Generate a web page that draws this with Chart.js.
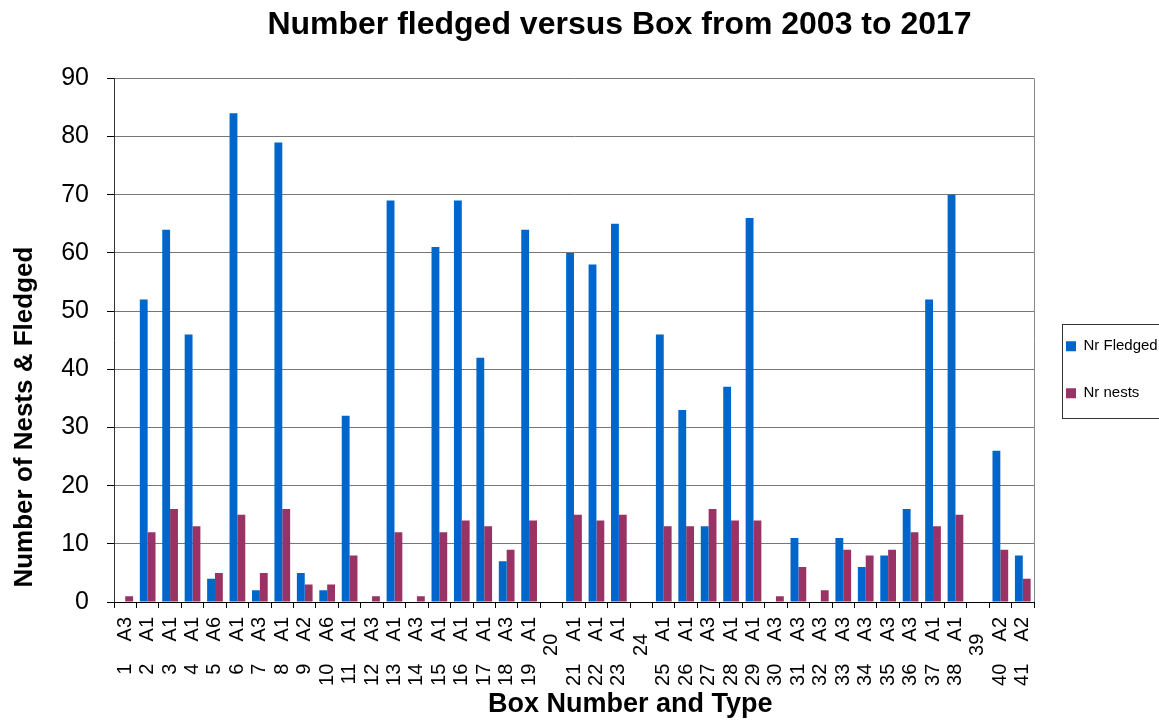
<!DOCTYPE html>
<html>
<head>
<meta charset="utf-8">
<script src="https://cdn.jsdelivr.net/npm/chart.js@4/dist/chart.umd.min.js"></script>
<style>
  html, body { margin: 0; padding: 0; background: #fff; }
  #wrap { width: 1159px; height: 722px; }
</style>
</head>
<body>
<div id="wrap"><canvas id="chart"></canvas></div>
<script>
// box numbers and box types (empty type = no box label)
const boxNumbers = ['1','2','3','4','5','6','7','8','9','10','11','12','13','14','15','16','17','18','19','20',
  '21','22','23','24','25','26','27','28','29','30','31','32','33','34','35','36','37','38','39','40','41'];
const boxTypes = ['A3','A1','A1','A1','A6','A1','A3','A1','A2','A6','A1','A3','A1','A3','A1','A1','A1','A3','A1','',
  'A1','A1','A1','','A1','A1','A3','A1','A1','A3','A3','A3','A3','A3','A3','A3','A1','A1','','A2','A2'];

const nrFledged = [0,52,64,46,4,84,2,79,5,2,32,0,69,0,61,69,42,7,64,0,
  60,58,65,0,46,33,13,37,66,0,11,0,11,6,8,16,52,70,0,26,8];
const nrNests = [1,12,16,13,5,15,5,16,3,3,8,1,12,1,12,14,13,9,14,0,
  15,14,15,0,13,13,16,14,14,1,6,2,9,8,9,12,13,15,0,9,4];

const yTicks = { min: 0, max: 90, step: 10 };

const FONT = "'Liberation Sans', Arial, sans-serif";

// rotated labels: "n    Ax"; lone numbers padded so they sit mid-way like the original
const labels = boxNumbers.map((n, i) => boxTypes[i] ? n + '    ' + boxTypes[i] : n + '   ');

// plot frame on the right + box around the legend
const frame = {
  id: 'frame',
  afterDraw(chart) {
    const { ctx, chartArea: a, legend } = chart;
    ctx.save();
    ctx.lineWidth = 1;
    ctx.strokeStyle = '#888';
    ctx.beginPath();
    ctx.moveTo(Math.round(a.right) + 0.5, a.top);
    ctx.lineTo(Math.round(a.right) + 0.5, a.bottom);
    ctx.stroke();

    const hb = legend.legendHitBoxes;
    if (hb && hb.length) {
      const last = hb[hb.length - 1];
      const x0 = Math.round(hb[0].left - 4) + 0.5;
      const y0 = Math.round(hb[0].top - 15) + 0.5;
      const y1 = Math.round(last.top + last.height + 17) + 0.5;
      ctx.strokeStyle = '#333';
      ctx.strokeRect(x0, y0, chart.width, y1 - y0);
    }
    ctx.restore();
  }
};

new Chart(document.getElementById('chart'), {
  type: 'bar',
  data: {
    labels: labels,
    datasets: [
      { label: 'Nr Fledged', data: nrFledged, backgroundColor: '#0066CC', borderWidth: 0 },
      { label: 'Nr nests', data: nrNests, backgroundColor: '#993366', borderWidth: 0 }
    ]
  },
  options: {
    responsive: true,
    maintainAspectRatio: false,
    animation: false,
    datasets: { bar: { categoryPercentage: 0.7, barPercentage: 1.0 } },
    layout: { padding: 0 },
    plugins: {
      title: {
        display: true,
        text: '         Number fledged versus Box from 2003 to 2017',
        color: '#000',
        font: { family: FONT, size: 32, weight: 'bold' },
        padding: { top: 6, bottom: 34 }
      },
      legend: {
        position: 'right',
        fullSize: false,
        maxWidth: 125,
        title: { display: true, text: '', font: { family: FONT, size: 15 }, padding: { top: 20, bottom: 21 } },
        labels: {
          boxWidth: 10,
          boxHeight: 10,
          padding: 32,
          color: '#000',
          font: { family: FONT, size: 15 }
        }
      },
      tooltip: { enabled: false }
    },
    scales: {
      x: {
        afterFit(scale) { scale.height = 120; },
        grid: { offset: true, drawOnChartArea: false, drawTicks: true, tickLength: 6, color: '#000' },
        border: { color: '#000', width: 1 },
        ticks: {
          autoSkip: false,
          maxRotation: 90,
          minRotation: 90,
          padding: 9,
          color: '#000',
          font: { family: FONT, size: 20 }
        },
        title: {
          display: true,
          text: '               Box Number and Type',
          color: '#000',
          font: { family: FONT, size: 27, weight: 'bold' },
          padding: { top: 0, bottom: 1 }
        }
      },
      y: {
        min: yTicks.min,
        max: yTicks.max,
        afterFit(scale) { scale.width = 114; },
        grid: { color: '#777', tickColor: '#000', tickLength: 7 },
        border: { color: '#333', width: 1 },
        ticks: {
          stepSize: yTicks.step,
          padding: 18,
          color: '#000',
          font: { family: FONT, size: 25 }
        },
        title: {
          display: true,
          align: 'start',
          text: '  Number of Nests & Fledged',
          color: '#000',
          font: { family: FONT, size: 26, weight: 'bold' },
          padding: { top: 9, bottom: 0 }
        }
      }
    }
  },
  plugins: [frame]
});
</script>
</body>
</html>
